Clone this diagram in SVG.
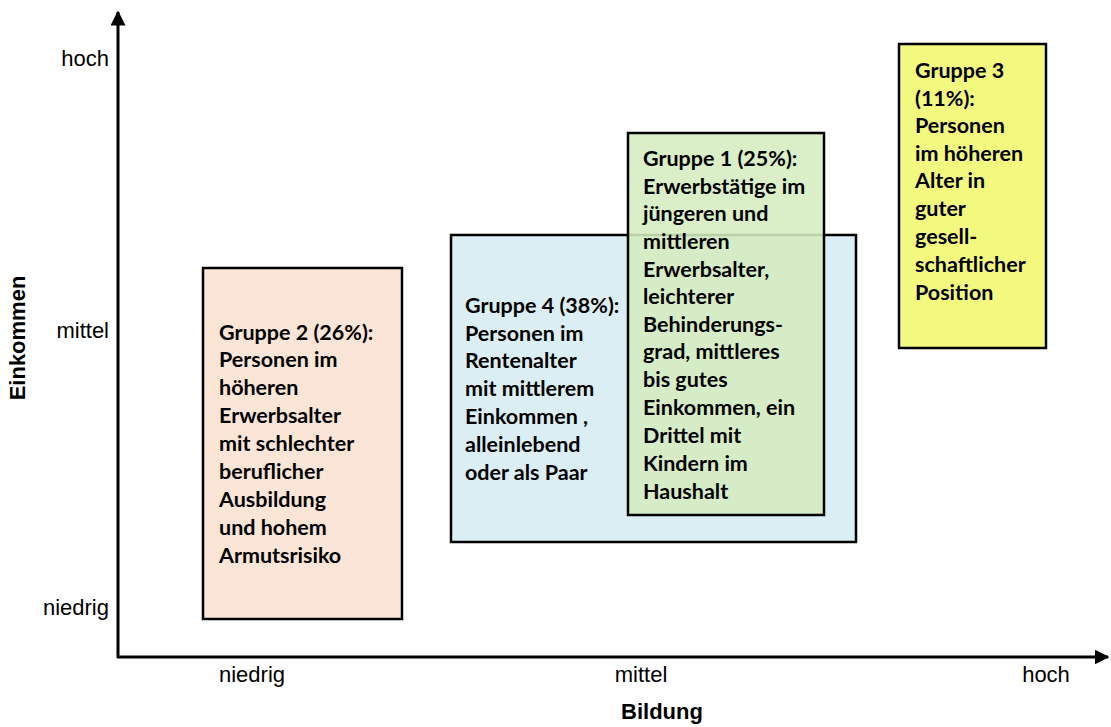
<svg xmlns="http://www.w3.org/2000/svg" width="1111" height="727" viewBox="0 0 1111 727">
<defs>
<marker id="ah" viewBox="0 0 10 10" refX="9" refY="5" markerWidth="5" markerHeight="5" markerUnits="strokeWidth" orient="auto">
<path d="M0,0 L10,5 L0,10 z" fill="#000"/>
</marker>
<style>
.box{stroke:#000;stroke-width:2.5}
.t{font-family:Lato,"Liberation Sans",sans-serif;font-weight:bold;font-size:21.5px;fill:#000}
.ax{font-family:"Liberation Sans",Arial,sans-serif;font-size:22px;fill:#000}
.axb{font-family:"Liberation Sans",Arial,sans-serif;font-size:22px;font-weight:bold;fill:#000}
</style>
</defs>
<rect width="1111" height="727" fill="#fff"/>
<g id="connectors">
<line x1="118" y1="658" x2="118" y2="12" stroke="#000" stroke-width="3" marker-end="url(#ah)"/>
<line x1="117" y1="657" x2="1108" y2="657" stroke="#000" stroke-width="3" marker-end="url(#ah)"/>
</g>
<g id="axis-labels">
<text class="ax" x="109" y="66" text-anchor="end">hoch</text>
<text class="ax" x="109" y="338" text-anchor="end">mittel</text>
<text class="ax" x="109" y="615" text-anchor="end">niedrig</text>
<text class="ax" x="252" y="682" text-anchor="middle">niedrig</text>
<text class="ax" x="641" y="682" text-anchor="middle">mittel</text>
<text class="ax" x="1046" y="682" text-anchor="middle">hoch</text>
<text class="axb" x="662" y="719" text-anchor="middle">Bildung</text>
<text class="axb" transform="translate(25,338) rotate(-90)" text-anchor="middle">Einkommen</text>
</g>
<g id="gruppe2">
<rect class="box" x="203" y="268" width="199" height="351" fill="#fbe5d6"/>
<text class="t" x="219" y="340">Gruppe 2 (26%):</text>
<text class="t" x="219" y="367">Personen im</text>
<text class="t" x="219" y="395">höheren</text>
<text class="t" x="219" y="423">Erwerbsalter</text>
<text class="t" x="219" y="451">mit schlechter</text>
<text class="t" x="219" y="479">beruflicher</text>
<text class="t" x="219" y="507">Ausbildung</text>
<text class="t" x="219" y="535">und hohem</text>
<text class="t" x="219" y="563">Armutsrisiko</text>
</g>
<g id="gruppe4">
<rect class="box" x="451" y="235" width="405" height="307" fill="#dbeef4"/>
<text class="t" x="465" y="313">Gruppe 4 (38%):</text>
<text class="t" x="465" y="341">Personen im</text>
<text class="t" x="465" y="368">Rentenalter</text>
<text class="t" x="465" y="396">mit mittlerem</text>
<text class="t" x="465" y="424">Einkommen ,</text>
<text class="t" x="465" y="452">alleinlebend</text>
<text class="t" x="465" y="480">oder als Paar</text>
</g>
<g id="gruppe1">
<rect class="box" x="628" y="133" width="196" height="382" fill="#d5ecc0" fill-opacity="0.88"/>
<text class="t" x="643" y="166">Gruppe 1 (25%):</text>
<text class="t" x="643" y="194">Erwerbstätige im</text>
<text class="t" x="643" y="221">jüngeren und</text>
<text class="t" x="643" y="249">mittleren</text>
<text class="t" x="643" y="277">Erwerbsalter,</text>
<text class="t" x="643" y="304">leichterer</text>
<text class="t" x="643" y="332">Behinderungs-</text>
<text class="t" x="643" y="359">grad, mittleres</text>
<text class="t" x="643" y="387">bis gutes</text>
<text class="t" x="643" y="415">Einkommen, ein</text>
<text class="t" x="643" y="443">Drittel mit</text>
<text class="t" x="643" y="471">Kindern im</text>
<text class="t" x="643" y="499">Haushalt</text>
</g>
<g id="gruppe3">
<rect class="box" x="899" y="44" width="147" height="304" fill="#f3f97f"/>
<text class="t" x="915" y="78">Gruppe 3</text>
<text class="t" x="915" y="106">(11%):</text>
<text class="t" x="915" y="133">Personen</text>
<text class="t" x="915" y="161">im höheren</text>
<text class="t" x="915" y="188">Alter in</text>
<text class="t" x="915" y="216">guter</text>
<text class="t" x="915" y="244">gesell-</text>
<text class="t" x="915" y="272">schaftlicher</text>
<text class="t" x="915" y="300">Position</text>
</g>
</svg>
